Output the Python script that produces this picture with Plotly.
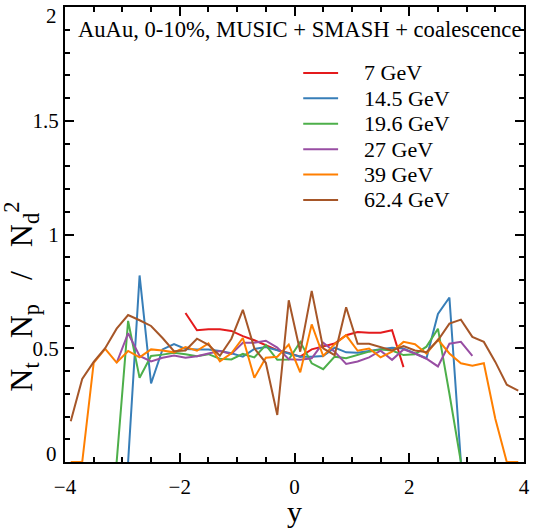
import plotly.graph_objects as go

# ---------------- data ----------------
series_names = ["7 GeV", "14.5 GeV", "19.6 GeV", "27 GeV", "39 GeV", "62.4 GeV"]
colors = ["#e41a1c", "#377eb8", "#4daf4a", "#984ea3", "#ff7f00", "#a65628"]

rap_7 = [-1.9, -1.7, -1.5, -1.3, -1.1, -0.9, -0.7, -0.5, -0.3, -0.1,
         0.1, 0.3, 0.5, 0.7, 0.9, 1.1, 1.3, 1.5, 1.7, 1.9]
ratio_7 = [0.655, 0.579, 0.583, 0.583, 0.576, 0.553, 0.535, 0.514, 0.492, 0.479,
           0.463, 0.495, 0.509, 0.521, 0.557, 0.571, 0.568, 0.568, 0.579, 0.417]

rap_14 = [-2.9, -2.7, -2.5, -2.3, -2.1, -1.9, -1.7, -1.5, -1.3, -1.1, -0.9, -0.7, -0.5, -0.3, -0.1,
          0.1, 0.3, 0.5, 0.7, 0.9, 1.1, 1.3, 1.5, 1.7, 1.9, 2.1, 2.3, 2.5, 2.7, 2.9]
ratio_14 = [0.0, 0.82, 0.345, 0.495, 0.518, 0.497, 0.495, 0.495, 0.488, 0.478, 0.463, 0.497, 0.505, 0.49, 0.478,
            0.463, 0.463, 0.466, 0.503, 0.482, 0.48, 0.489, 0.496, 0.502, 0.499, 0.477, 0.456, 0.651, 0.723, 0.0]

rap_19 = [-3.1, -2.9, -2.7, -2.5, -2.3, -2.1, -1.9, -1.7, -1.5, -1.3, -1.1, -0.9, -0.7, -0.5, -0.3, -0.1,
          0.1, 0.3, 0.5, 0.7, 0.9, 1.1, 1.3, 1.5, 1.7, 1.9, 2.1, 2.3, 2.5, 2.7, 2.9]
ratio_19 = [0.0, 0.62, 0.37, 0.466, 0.472, 0.48, 0.474, 0.465, 0.474, 0.454, 0.451, 0.475, 0.46, 0.514, 0.449, 0.45,
            0.528, 0.434, 0.408, 0.463, 0.456, 0.47, 0.485, 0.495, 0.49, 0.47, 0.474, 0.507, 0.586, 0.30, 0.0]

rap_27 = [-3.1, -2.9, -2.7, -2.5, -2.3, -2.1, -1.9, -1.7, -1.5, -1.3, -1.1, -0.9, -0.7, -0.5, -0.3, -0.1,
          0.1, 0.3, 0.5, 0.7, 0.9, 1.1, 1.3, 1.5, 1.7, 1.9, 2.1, 2.3, 2.5, 2.7, 2.9, 3.1]
ratio_27 = [0.436, 0.566, 0.466, 0.442, 0.458, 0.468, 0.458, 0.465, 0.477, 0.488, 0.475, 0.524, 0.524, 0.533, 0.503, 0.452,
            0.449, 0.456, 0.524, 0.485, 0.431, 0.442, 0.46, 0.489, 0.449, 0.495, 0.477, 0.454, 0.42, 0.52, 0.528, 0.466]

rap_39 = [-3.9, -3.7, -3.5, -3.3, -3.1, -2.9, -2.7, -2.5, -2.3, -2.1, -1.9, -1.7, -1.5, -1.3, -1.1, -0.9, -0.7, -0.5, -0.3, -0.1,
          0.1, 0.3, 0.5, 0.7, 0.9, 1.1, 1.3, 1.5, 1.7, 1.9, 2.1, 2.3, 2.5, 2.7, 2.9, 3.1, 3.3, 3.5, 3.7, 3.9]
ratio_39 = [0.0, 0.0, 0.436, 0.497, 0.437, 0.488, 0.46, 0.495, 0.49, 0.482, 0.505, 0.489, 0.521, 0.443, 0.478, 0.545, 0.37, 0.458, 0.463, 0.516,
            0.394, 0.605, 0.466, 0.518, 0.557, 0.489, 0.499, 0.46, 0.485, 0.528, 0.518, 0.477, 0.538, 0.477, 0.434, 0.423, 0.434, 0.19, 0.0, 0.0]

rap_62 = [-3.9, -3.7, -3.5, -3.3, -3.1, -2.9, -2.7, -2.5, -2.3, -2.1, -1.9, -1.7, -1.5, -1.3, -1.1, -0.9, -0.7, -0.5, -0.3, -0.1,
          0.1, 0.3, 0.5, 0.7, 0.9, 1.1, 1.3, 1.5, 1.7, 1.9, 2.1, 2.3, 2.5, 2.7, 2.9, 3.1, 3.3, 3.5, 3.7, 3.9]
ratio_62 = [0.179, 0.365, 0.44, 0.50, 0.586, 0.646, 0.623, 0.598, 0.545, 0.487, 0.49, 0.542, 0.515, 0.467, 0.542, 0.669, 0.50, 0.436, 0.207, 0.711,
            0.485, 0.752, 0.50, 0.47, 0.68, 0.52, 0.52, 0.505, 0.49, 0.51, 0.49, 0.483, 0.535, 0.608, 0.626, 0.55, 0.528, 0.44, 0.34, 0.314]

x_ticks = [-4, -2, 0, 2, 4]
y_ticks = [0, 0.5, 1, 1.5, 2]
y_ticktext = ["", "0.5", "1", "1.5", ""]   # end labels drawn nudged inward, as in the reference
y_end_labels = ["0", "2"]
y_end_label_pos = [0.035, 1.962]

all_rap = [rap_7, rap_14, rap_19, rap_27, rap_39, rap_62]
all_ratio = [ratio_7, ratio_14, ratio_19, ratio_27, ratio_39, ratio_62]

FONT = "Liberation Serif, Times New Roman, serif"
SP = "\u00a0\u00a0\u00a0"

fig = go.Figure()
for name, col, xs, ys in zip(series_names, colors, all_rap, all_ratio):
    fig.add_trace(go.Scatter(x=xs, y=ys, mode="lines", name=name,
                             line=dict(color=col, width=2), showlegend=False))

# manual legend (line samples + labels)
leg_top = 0.855
leg_step = 0.0558
shapes = []
annotations = []
for i, (name, col) in enumerate(zip(series_names, colors)):
    yy = leg_top - i * leg_step
    shapes.append(dict(type="line", xref="paper", yref="paper", x0=0.519, x1=0.595,
                       y0=yy, y1=yy, line=dict(color=col, width=2)))
    annotations.append(dict(text=name, xref="paper", yref="paper", x=0.647, y=yy,
                            xanchor="left", yanchor="middle", showarrow=False,
                            font=dict(family=FONT, size=22, color="black")))

annotations.append(dict(text="AuAu, 0-10%, MUSIC + SMASH + coalescence",
                        xref="paper", yref="paper", x=0.024, y=0.951,
                        xanchor="left", yanchor="middle", showarrow=False,
                        font=dict(family=FONT, size=22.6, color="black")))

annotations.append(dict(text="N<sub>t</sub>" + SP + "N<sub>p</sub>" + SP + "/" + SP + "N<sub>d</sub><sup>2</sup>",
                        xref="paper", yref="paper", x=-0.094, y=0.363,
                        xanchor="center", yanchor="middle", textangle=-90, showarrow=False,
                        font=dict(family=FONT, size=32, color="black")))

for lab, pos in zip(y_end_labels, y_end_label_pos):
    annotations.append(dict(text=lab, xref="paper", yref="y", x=-0.013, y=pos,
                            xanchor="right", yanchor="middle", showarrow=False,
                            font=dict(family=FONT, size=21, color="black")))

axis_common = dict(showline=True, linewidth=2, linecolor="black", mirror="allticks",
                   ticks="inside", ticklen=9, tickwidth=1.5, tickcolor="black",
                   showgrid=False, zeroline=False,
                   tickfont=dict(family=FONT, size=21, color="black"))

fig.update_layout(
    width=535, height=528,
    margin=dict(l=65, r=8, t=5, b=61),
    paper_bgcolor="white", plot_bgcolor="white",
    shapes=shapes, annotations=annotations,
    xaxis=dict(range=[-4, 4], tickvals=x_ticks, ticklabelstandoff=5,
               minor=dict(dtick=0.5, tick0=-4, ticks="inside", ticklen=5, tickwidth=1.5, tickcolor="black"),
               title=dict(text="y", font=dict(family=FONT, size=30, color="black"), standoff=3),
               **axis_common),
    yaxis=dict(range=[0, 2], tickvals=y_ticks, ticktext=y_ticktext,
               minor=dict(dtick=0.1, tick0=0, ticks="inside", ticklen=5, tickwidth=1.5, tickcolor="black"),
               **axis_common),
)

fig.write_html("out.html")
